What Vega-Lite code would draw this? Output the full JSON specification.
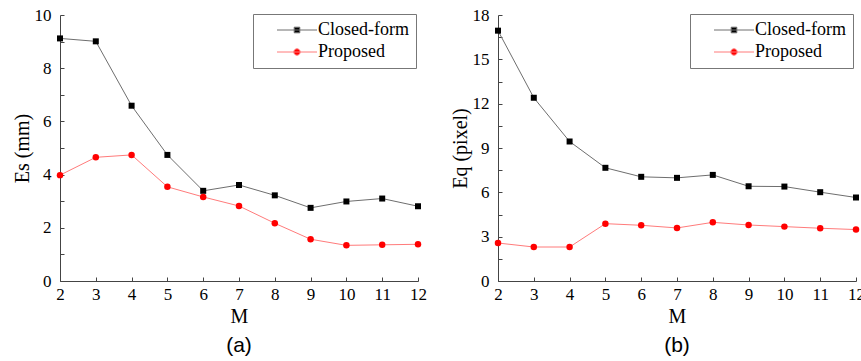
{
  "$schema": "https://vega.github.io/schema/vega-lite/v6.json",
  "padding": {"left": 12, "top": 6, "right": 0, "bottom": 0},
  "background": "white",
  "datasets": {
    "a": [
      {"M": 2, "series": "Closed-form", "value": 9.12},
      {"M": 3, "series": "Closed-form", "value": 9.01},
      {"M": 4, "series": "Closed-form", "value": 6.59},
      {"M": 5, "series": "Closed-form", "value": 4.74},
      {"M": 6, "series": "Closed-form", "value": 3.39},
      {"M": 7, "series": "Closed-form", "value": 3.61},
      {"M": 8, "series": "Closed-form", "value": 3.22},
      {"M": 9, "series": "Closed-form", "value": 2.75},
      {"M": 10, "series": "Closed-form", "value": 2.99},
      {"M": 11, "series": "Closed-form", "value": 3.10},
      {"M": 12, "series": "Closed-form", "value": 2.81},
      {"M": 2, "series": "Proposed", "value": 3.98},
      {"M": 3, "series": "Proposed", "value": 4.65},
      {"M": 4, "series": "Proposed", "value": 4.74},
      {"M": 5, "series": "Proposed", "value": 3.54},
      {"M": 6, "series": "Proposed", "value": 3.16},
      {"M": 7, "series": "Proposed", "value": 2.82},
      {"M": 8, "series": "Proposed", "value": 2.17},
      {"M": 9, "series": "Proposed", "value": 1.57},
      {"M": 10, "series": "Proposed", "value": 1.34},
      {"M": 11, "series": "Proposed", "value": 1.36},
      {"M": 12, "series": "Proposed", "value": 1.38}
    ],
    "b": [
      {"M": 2, "series": "Closed-form", "value": 16.94},
      {"M": 3, "series": "Closed-form", "value": 12.40},
      {"M": 4, "series": "Closed-form", "value": 9.44},
      {"M": 5, "series": "Closed-form", "value": 7.66},
      {"M": 6, "series": "Closed-form", "value": 7.05},
      {"M": 7, "series": "Closed-form", "value": 6.98},
      {"M": 8, "series": "Closed-form", "value": 7.18},
      {"M": 9, "series": "Closed-form", "value": 6.41},
      {"M": 10, "series": "Closed-form", "value": 6.39},
      {"M": 11, "series": "Closed-form", "value": 6.01},
      {"M": 12, "series": "Closed-form", "value": 5.65},
      {"M": 2, "series": "Proposed", "value": 2.57},
      {"M": 3, "series": "Proposed", "value": 2.30},
      {"M": 4, "series": "Proposed", "value": 2.30},
      {"M": 5, "series": "Proposed", "value": 3.88},
      {"M": 6, "series": "Proposed", "value": 3.77},
      {"M": 7, "series": "Proposed", "value": 3.59},
      {"M": 8, "series": "Proposed", "value": 3.97},
      {"M": 9, "series": "Proposed", "value": 3.79},
      {"M": 10, "series": "Proposed", "value": 3.68},
      {"M": 11, "series": "Proposed", "value": 3.57},
      {"M": 12, "series": "Proposed", "value": 3.48}
    ]
  },
  "hconcat": [
    {
      "width": 358,
      "height": 266,
      "data": {"name": "a"},
      "title": {"text": "(a)", "orient": "bottom", "anchor": "middle", "font": "Liberation Sans", "fontSize": 21, "fontWeight": "normal", "color": "#000", "offset": 9},
      "encoding": {
        "x": {"field": "M", "type": "quantitative", "scale": {"domain": [2, 12], "nice": false, "zero": false},
              "axis": {"values": [2, 3, 4, 5, 6, 7, 8, 9, 10, 11, 12], "title": "M"}},
        "y": {"field": "value", "type": "quantitative", "scale": {"domain": [0, 10], "nice": false},
              "axis": {"values": [0, 1, 2, 3, 4, 5, 6, 7, 8, 9, 10], "labelExpr": "datum.value % 2 === 0 ? datum.label : ''", "title": "Es (mm)"}}
      },
      "layer": [
        {"mark": {"type": "line", "strokeWidth": 1},
         "encoding": {"stroke": {"field": "series", "type": "nominal", "scale": {"domain": ["Closed-form", "Proposed"], "range": ["#6e6e6e", "#ff7b7b"]}}}},
        {"transform": [{"filter": "datum.series === 'Closed-form'"}],
         "mark": {"type": "point", "shape": "square", "filled": true, "size": 36, "color": "#000", "opacity": 1}},
        {"transform": [{"filter": "datum.series === 'Proposed'"}],
         "mark": {"type": "point", "shape": "circle", "filled": true, "size": 42, "color": "#ff0000", "opacity": 1}},
        {"mark": {"type": "point", "filled": true, "opacity": 0},
         "encoding": {
           "stroke": {"field": "series", "type": "nominal",
             "legend": {"orient": "none", "legendX": 193, "legendY": -1, "title": null, "labelFont": "Liberation Serif", "labelFontSize": 18, "labelColor": "#000", "symbolSize": 64, "symbolStrokeWidth": 1, "symbolOffset": 28, "labelOffset": 12, "padding": 7, "rowPadding": 4, "strokeColor": "#777", "fillColor": "#fff", "symbolOpacity": 1,
               "encode": {"symbols": {"update": {"opacity": {"value": 1}}}}}},
           "fill": {"field": "series", "type": "nominal", "scale": {"domain": ["Closed-form", "Proposed"], "range": ["#000000", "#ff0000"]}},
           "shape": {"field": "series", "type": "nominal", "scale": {"domain": ["Closed-form", "Proposed"], "range": ["M-5,0H5M-0.7,-0.7H0.7V0.7H-0.7Z", "M-5,0H5M0.8,0A0.8,0.8,0,1,1,-0.8,0A0.8,0.8,0,1,1,0.8,0Z"]}}
         }}
      ]
    },
    {
      "width": 358,
      "height": 266,
      "data": {"name": "b"},
      "title": {"text": "(b)", "orient": "bottom", "anchor": "middle", "font": "Liberation Sans", "fontSize": 21, "fontWeight": "normal", "color": "#000", "offset": 9},
      "encoding": {
        "x": {"field": "M", "type": "quantitative", "scale": {"domain": [2, 12], "nice": false, "zero": false},
              "axis": {"values": [2, 3, 4, 5, 6, 7, 8, 9, 10, 11, 12], "title": "M"}},
        "y": {"field": "value", "type": "quantitative", "scale": {"domain": [0, 18], "nice": false},
              "axis": {"values": [0, 1.5, 3, 4.5, 6, 7.5, 9, 10.5, 12, 13.5, 15, 16.5, 18], "labelExpr": "datum.value % 3 === 0 ? datum.label : ''", "title": "Eq (pixel)"}}
      },
      "layer": [
        {"mark": {"type": "line", "strokeWidth": 1},
         "encoding": {"stroke": {"field": "series", "type": "nominal", "scale": {"domain": ["Closed-form", "Proposed"], "range": ["#6e6e6e", "#ff7b7b"]}}}},
        {"transform": [{"filter": "datum.series === 'Closed-form'"}],
         "mark": {"type": "point", "shape": "square", "filled": true, "size": 36, "color": "#000", "opacity": 1}},
        {"transform": [{"filter": "datum.series === 'Proposed'"}],
         "mark": {"type": "point", "shape": "circle", "filled": true, "size": 42, "color": "#ff0000", "opacity": 1}},
        {"mark": {"type": "point", "filled": true, "opacity": 0},
         "encoding": {
           "stroke": {"field": "series", "type": "nominal",
             "legend": {"orient": "none", "legendX": 192, "legendY": -1, "title": null, "labelFont": "Liberation Serif", "labelFontSize": 18, "labelColor": "#000", "symbolSize": 64, "symbolStrokeWidth": 1, "symbolOffset": 28, "labelOffset": 12, "padding": 7, "rowPadding": 4, "strokeColor": "#777", "fillColor": "#fff", "symbolOpacity": 1,
               "encode": {"symbols": {"update": {"opacity": {"value": 1}}}}}},
           "fill": {"field": "series", "type": "nominal", "scale": {"domain": ["Closed-form", "Proposed"], "range": ["#000000", "#ff0000"]}},
           "shape": {"field": "series", "type": "nominal", "scale": {"domain": ["Closed-form", "Proposed"], "range": ["M-5,0H5M-0.7,-0.7H0.7V0.7H-0.7Z", "M-5,0H5M0.8,0A0.8,0.8,0,1,1,-0.8,0A0.8,0.8,0,1,1,0.8,0Z"]}}
         }}
      ]
    }
  ],
  "resolve": {"scale": {"stroke": "independent", "fill": "independent", "shape": "independent"}, "legend": {"stroke": "independent", "fill": "independent", "shape": "independent"}},
  "config": {
    "concat": {"spacing": 18},
    "view": {"stroke": null},
    "axis": {"domainColor": "#444", "tickColor": "#444", "tickSize": -4, "grid": false, "labelFont": "Liberation Serif", "labelFontSize": 17, "labelColor": "#000", "labelFlush": false, "labelOverlap": false, "labelBound": false, "titleFont": "Liberation Serif", "titleFontSize": 20, "titleFontWeight": "normal", "titleColor": "#000"},
    "axisY": {"labelPadding": 13, "titlePadding": 2},
    "axisX": {"labelPadding": 9, "titlePadding": 4}
  }
}
